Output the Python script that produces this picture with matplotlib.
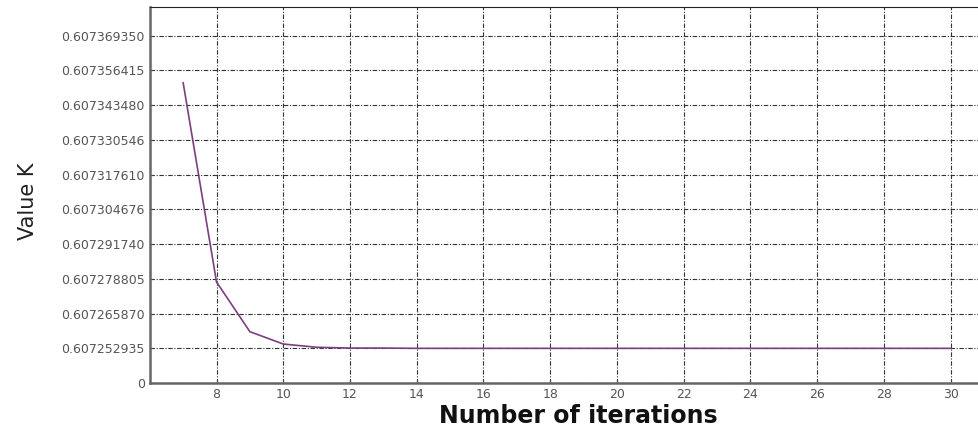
import numpy as np
import matplotlib.pyplot as plt

plt.rcParams['font.family'] = ['DejaVu Sans']

# number of iterations and the CORDIC scale factor K
iterations = list(range(7, 31))
k_values = [0.6073518, 0.6072776, 0.6072591, 0.6072545, 0.6072533, 0.6072530,
            0.6072530, 0.6072529, 0.6072529, 0.6072529, 0.6072529, 0.6072529,
            0.6072529, 0.6072529, 0.6072529, 0.6072529, 0.6072529, 0.6072529,
            0.6072529, 0.6072529, 0.6072529, 0.6072529, 0.6072529, 0.6072529]

ytick_vals = [0.60724, 0.607252935, 0.607265870, 0.607278805, 0.607291740,
              0.607304675, 0.607317610, 0.607330545, 0.607343480,
              0.607356415, 0.607369350]
ytick_labels = ['0', '0.607252935', '0.607265870', '0.607278805',
                '0.607291740', '0.607304676', '0.607317610', '0.607330546',
                '0.607343480', '0.607356415', '0.607369350']
xticks = list(range(8, 31, 2))

fig = plt.figure(figsize=(9.79, 4.26), dpi=100)
ax = fig.add_axes([0.153, 0.101, 0.847, 0.883])

ax.plot(iterations, k_values, color='#7b3f7e', lw=1.2)

step = 0.000012935
ax.set_ylim(0.60724, 0.607369350 + 0.83 * step)
ax.set_xlim(6, 30.85)
ax.set_yticks(ytick_vals)
ax.set_yticklabels(ytick_labels)
ax.set_xticks(xticks)

ax.tick_params(direction='in', length=3, labelsize=9, labelcolor='#555',
               colors='#444')
ax.grid(True, color='#333', lw=0.8, linestyle=(0, (4, 1.5, 1, 1.5)))

for s in ['left', 'bottom']:
    ax.spines[s].set_color('#666')
    ax.spines[s].set_linewidth(1.8)
ax.spines['top'].set_color('#222')
ax.spines['top'].set_linewidth(0.8)
ax.spines['right'].set_visible(False)

ax.set_xlabel('Number of iterations', fontsize=17, fontweight='bold',
              color='#111')
ax.xaxis.set_label_coords((578 - 150) / 829, -0.055)
ax.set_ylabel('Value K', fontsize=15, color='#222')
ax.yaxis.set_label_coords(-0.1345, 0.484)

fig.savefig('out.png', dpi=100)
